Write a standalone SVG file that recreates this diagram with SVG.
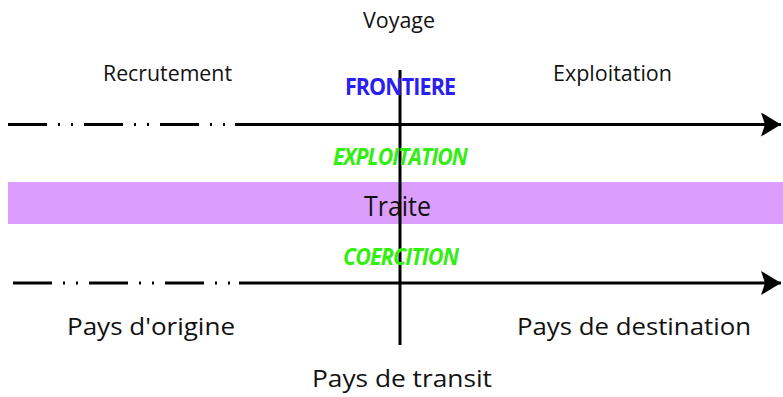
<svg xmlns="http://www.w3.org/2000/svg" width="783" height="397" viewBox="0 0 783 397">
<defs>
<style>
text{font-family:"Open Sans","Noto Sans","DejaVu Sans",sans-serif;fill:#111;text-anchor:start}
.s{font-size:21px}
.l{font-size:24px}
.t{font-size:27px}
.b{font-weight:bold;font-size:23px;letter-spacing:-1px}
.g{fill:#33ee11;font-style:italic}
.bl{fill:#2a1ff0}
.ln{stroke:#000;stroke-width:3;fill:none}
.dash{stroke-dasharray:39 11 2 11 2 11}
</style>
<marker id="ah" markerUnits="userSpaceOnUse" markerWidth="24" markerHeight="28" refX="20" refY="12" orient="auto" viewBox="0 0 24 28">
<path d="M0,0 L20,12 L0,24 L4,12 Z" fill="#000"/>
</marker>
</defs>
<rect id="traite-bar" x="8" y="182" width="775" height="42" fill="#db9efd"/>
<g id="connectors">
<path class="ln dash" d="M8,124.5 H235"/>
<path class="ln" d="M235,124.5 H781" marker-end="url(#ah)"/>
<path class="ln dash" d="M13,283 H239"/>
<path class="ln" d="M239,283 H781" marker-end="url(#ah)"/>
<path class="ln" d="M400,70 V345"/>
</g>
<g id="voyage"><text class="s" x="363" y="28" textLength="72" lengthAdjust="spacingAndGlyphs">Voyage</text></g>
<g id="recrutement"><text class="s" x="103" y="81" textLength="129" lengthAdjust="spacingAndGlyphs">Recrutement</text></g>
<g id="exploitation"><text class="s" x="553" y="81" textLength="119" lengthAdjust="spacingAndGlyphs">Exploitation</text></g>
<g id="frontiere"><text class="b bl" x="345" y="95" textLength="110" lengthAdjust="spacingAndGlyphs">FRONTIERE</text></g>
<g id="exploitation-green"><text class="b g" x="333" y="165" textLength="134" lengthAdjust="spacingAndGlyphs">EXPLOITATION</text></g>
<g id="traite"><text class="t" x="364" y="216" textLength="67" lengthAdjust="spacingAndGlyphs">Traite</text></g>
<g id="coercition"><text class="b g" x="343" y="265" textLength="115" lengthAdjust="spacingAndGlyphs">COERCITION</text></g>
<g id="pays-origine"><text class="l" x="67" y="335" textLength="168" lengthAdjust="spacingAndGlyphs">Pays d'origine</text></g>
<g id="pays-destination"><text class="l" x="517" y="335" textLength="234" lengthAdjust="spacingAndGlyphs">Pays de destination</text></g>
<g id="pays-transit"><text class="l" x="312" y="387" textLength="180" lengthAdjust="spacingAndGlyphs">Pays de transit</text></g>
</svg>
